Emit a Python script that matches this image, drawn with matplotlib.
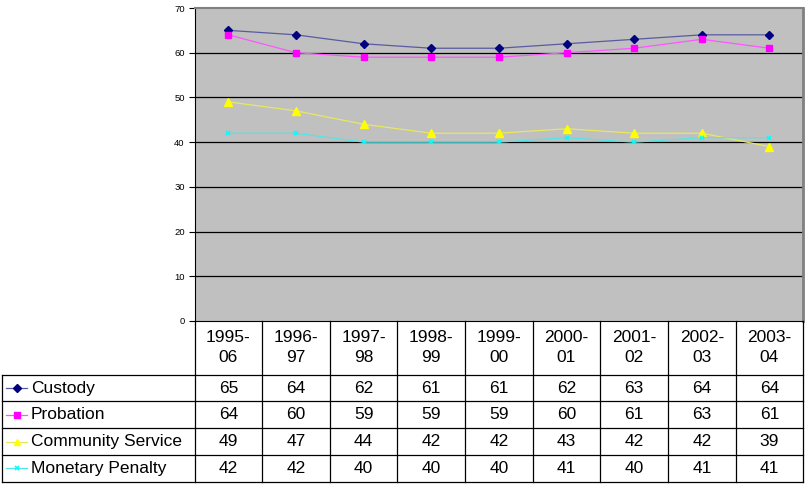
import matplotlib
matplotlib.use("Agg")
import matplotlib.pyplot as plt

plt.rcParams['font.family'] = ['Liberation Sans', 'DejaVu Sans']

periods = ["1995-\n06", "1996-\n97", "1997-\n98", "1998-\n99", "1999-\n00",
           "2000-\n01", "2001-\n02", "2002-\n03", "2003-\n04"]
series_names = ["Custody", "Probation", "Community Service", "Monetary Penalty"]
custody = [65, 64, 62, 61, 61, 62, 63, 64, 64]
probation = [64, 60, 59, 59, 59, 60, 61, 63, 61]
community = [49, 47, 44, 42, 42, 43, 42, 42, 39]
monetary = [42, 42, 40, 40, 40, 41, 40, 41, 41]
y_ticks = [0, 10, 20, 30, 40, 50, 60, 70]

series = [custody, probation, community, monetary]
styles = [
    dict(color="#000080", line="#5a5aa0", marker="D", ms=4, mew=1.0),
    dict(color="#FF00FF", line="#ff55ff", marker="s", ms=4.5, mew=1.0),
    dict(color="#FFFF00", line="#e8e860", marker="^", ms=5.5, mew=1.0),
    dict(color="#00FFFF", line="#55e5e5", marker="x", ms=3.5, mew=1.2),
]

W, H = 810, 488
fig = plt.figure(figsize=(W / 100, H / 100), dpi=100)
fig.patch.set_facecolor("white")

pl, pr, pt, pb = 194.5, 803.3, 8, 321
ax = fig.add_axes([pl / W, 1 - pb / H, (pr - pl) / W, (pb - pt) / H])
ax.set_facecolor("#C0C0C0")
x = list(range(len(periods)))
for vals, st in zip(series, styles):
    ax.plot(x, vals, color=st["line"], lw=0.9, marker=st["marker"], ms=st["ms"],
            mfc=st["color"], mec=st["color"], mew=st["mew"], zorder=3)
ax.set_xlim(-0.5, len(periods) - 0.5)
ax.set_ylim(0, 70)
ax.set_yticks(y_ticks)
ax.set_yticklabels([str(v) for v in y_ticks], fontsize=6.8)
ax.set_xticks([])
for v in y_ticks[1:-1]:
    ax.axhline(v, color="black", lw=0.9, zorder=1)
ax.tick_params(axis="y", direction="out", length=4, width=0.8, pad=3)
ax.spines["left"].set_color("black")
ax.spines["bottom"].set_color("black")
ax.spines["top"].set_color("#808080")
ax.spines["right"].set_color("#808080")
ax.spines["top"].set_linewidth(1.5)
ax.spines["right"].set_linewidth(2.0)

# Data table
colw = (pr - pl) / len(periods)
tl, tb = 2.0, 481.8
tax = fig.add_axes([tl / W, 1 - tb / H, (pr - tl) / W, (tb - pb) / H])
left_x = -0.5 - (pl - tl) / colw
tax.set_xlim(left_x, len(periods) - 0.5)
tax.set_ylim(0, 6)
tax.axis("off")

def px2x(p):
    return left_x + (p - tl) / colw

lc = "black"
lw = 0.9
for yv in range(0, 5):
    tax.plot([left_x, len(periods) - 0.5], [yv, yv], color=lc, lw=lw, clip_on=False)
for k in range(len(periods) + 1):
    tax.plot([k - 0.5, k - 0.5], [0, 6], color=lc, lw=lw, clip_on=False)
tax.plot([left_x, left_x], [0, 4], color=lc, lw=lw, clip_on=False)

for j, p in enumerate(periods):
    tax.text(j, 5, p, ha="center", va="center", fontsize=12.5, linespacing=1.4)

for i, (name, vals, st) in enumerate(zip(series_names, series, styles)):
    yc = 3.5 - i
    tax.plot([px2x(6), px2x(27)], [yc, yc], color=st["line"], lw=0.9, clip_on=False)
    tax.plot([(px2x(6) + px2x(27)) / 2], [yc], marker=st["marker"], ms=st["ms"] * 0.9,
             mfc=st["color"], mec=st["color"], mew=st["mew"], clip_on=False)
    tax.text(px2x(31), yc, name, ha="left", va="center", fontsize=12.5)
    for j, v in enumerate(vals):
        tax.text(j, yc, str(v), ha="center", va="center", fontsize=12.5)

fig.savefig("out.png", dpi=100)
